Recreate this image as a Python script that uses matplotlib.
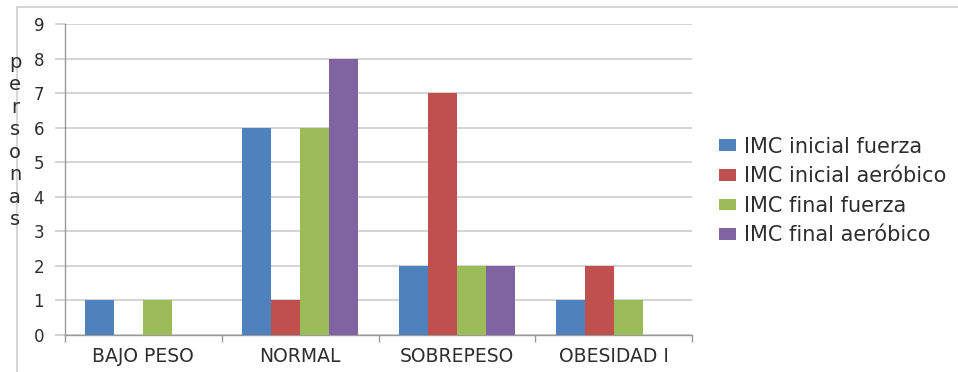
import matplotlib
matplotlib.use("Agg")
import matplotlib.pyplot as plt
import numpy as np
from matplotlib.patches import Rectangle

categories = ["BAJO PESO", "NORMAL", "SOBREPESO", "OBESIDAD I"]
series_names = ["IMC inicial fuerza", "IMC inicial aeróbico",
                "IMC final fuerza", "IMC final aeróbico"]
imc_inicial_fuerza = [1, 6, 2, 1]
imc_inicial_aerobico = [0, 1, 7, 2]
imc_final_fuerza = [1, 6, 2, 1]
imc_final_aerobico = [0, 8, 2, 0]
y_label = "personas"

series_values = [imc_inicial_fuerza, imc_inicial_aerobico,
                 imc_final_fuerza, imc_final_aerobico]
colors = ["#4F81BD", "#C0504D", "#9BBB59", "#8064A2"]

plt.rcParams["font.family"] = ["DejaVu Sans"]
text_color = "#2e2e2e"

fig = plt.figure(figsize=(9.58, 3.72), dpi=100)
fig.patch.set_facecolor("white")

# light outer chart frame
fig.patches.append(Rectangle((17 / 958, -0.1), 1.2, 1.1 - 7 / 372,
                             transform=fig.transFigure, fill=False,
                             edgecolor="#d0d0d0", linewidth=1.2, zorder=0))

ax = fig.add_axes([65 / 958, 1 - 335 / 372, (692 - 65) / 958, (335 - 24) / 372])

x = np.arange(len(categories))
bar_w = 0.185
for i, (vals, name, c) in enumerate(zip(series_values, series_names, colors)):
    offs = (i - 1.5) * bar_w
    ax.bar(x + offs, vals, width=bar_w, color=c, label=name, zorder=3,
           linewidth=0)

ax.set_xlim(-0.5, len(categories) - 0.5)
ax.set_ylim(0, 9)
ax.set_yticks(range(0, 10))
ax.yaxis.grid(True, color="#d4d4d4", linewidth=1.4, zorder=0)
ax.set_axisbelow(True)

ax.set_xticks(x)
ax.set_xticklabels(categories, fontsize=13.5, color=text_color)
ax.tick_params(axis="x", length=0, pad=9)
ax.set_xticks(np.arange(-0.5, len(categories)), minor=True)
ax.tick_params(axis="x", which="minor", length=5, color="#999999", width=1)
ax.tick_params(axis="y", length=7, color="#cccccc", width=1.2,
               labelsize=12, labelcolor=text_color, pad=8)

for side in ["top", "right"]:
    ax.spines[side].set_visible(False)
ax.spines["left"].set_color("#999999")
ax.spines["bottom"].set_color("#999999")
ax.spines["left"].set_linewidth(1)
ax.spines["bottom"].set_linewidth(1)

# vertical, letter-by-letter axis title
fig.text(15 / 958, 1 - 141 / 372, "\n".join(y_label), ha="center", va="center",
         fontsize=14, color=text_color, linespacing=1.23)

leg = ax.legend(loc="center left", bbox_to_anchor=(709 / 958, 1 - 191 / 372),
                bbox_transform=fig.transFigure, frameon=False, fontsize=15,
                borderpad=0, handlelength=0.78, handleheight=0.48,
                handletextpad=0.4, labelspacing=0.46, labelcolor=text_color)

fig.savefig("out.png", dpi=100)
